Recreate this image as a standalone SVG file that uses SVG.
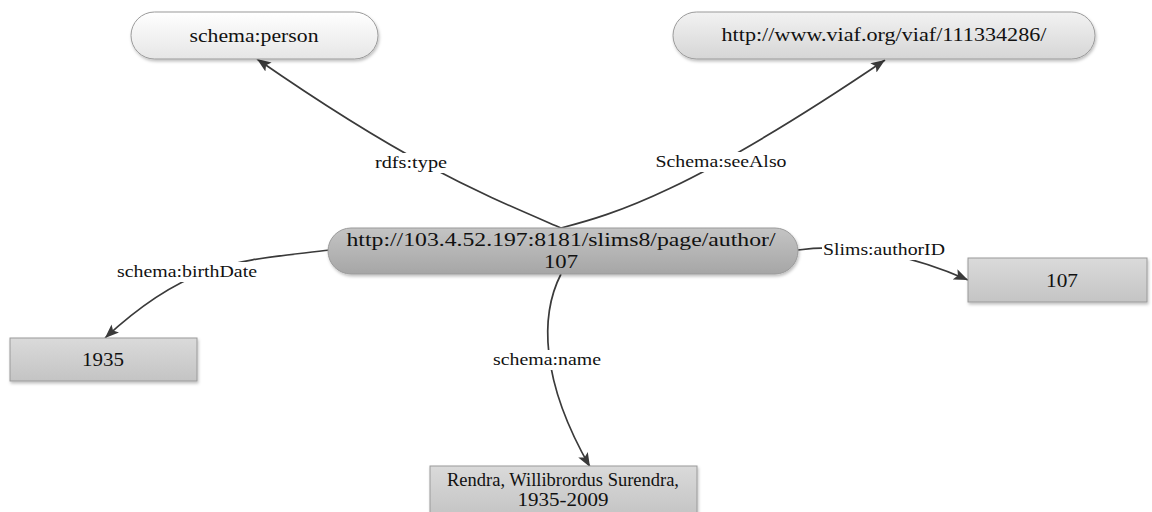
<svg xmlns="http://www.w3.org/2000/svg" width="1152" height="512" viewBox="0 0 1152 512">
<style>
text{font-family:"Liberation Serif","Times New Roman",serif;fill:#111111;text-anchor:middle}
.n{font-size:19px}
.c{font-size:19px}
.l{font-size:17px}
.edge{fill:none;stroke:#3a3a3a;stroke-width:1.7;marker-end:url(#ah)}
.lbg{fill:#ffffff}
.node{stroke:#9a9a9a;stroke-width:1;filter:url(#sh)}
</style>
<defs>
<marker id="ah" markerUnits="userSpaceOnUse" markerWidth="15" markerHeight="12" refX="14" refY="5.5" orient="auto">
<path d="M0,0 L14,5.5 L0,11 L3,5.5 z" fill="#3a3a3a"/>
</marker>
<linearGradient id="gW" x1="0" y1="0" x2="0" y2="1"><stop offset="0" stop-color="#ffffff"/><stop offset="1" stop-color="#e6e6e6"/></linearGradient>
<linearGradient id="gL" x1="0" y1="0" x2="0" y2="1"><stop offset="0" stop-color="#f2f2f2"/><stop offset="1" stop-color="#d6d6d6"/></linearGradient>
<linearGradient id="gC" x1="0" y1="0" x2="0" y2="1"><stop offset="0" stop-color="#c4c4c4"/><stop offset="1" stop-color="#a6a6a6"/></linearGradient>
<linearGradient id="gB" x1="0" y1="0" x2="0" y2="1"><stop offset="0" stop-color="#dadada"/><stop offset="1" stop-color="#c4c4c4"/></linearGradient>
<filter id="sh" x="-10%" y="-20%" width="120%" height="150%"><feDropShadow dx="1" dy="2" stdDeviation="1.5" flood-color="#000" flood-opacity="0.25"/></filter>
</defs>

<g id="connectors">
<path class="edge" d="M561,228 C480,193 410,165 257,59"/>
<path class="edge" d="M561,228 C615,214 690,192 885,60"/>
<path class="edge" d="M330,250 C240,261 190,259 105,338"/>
<path class="edge" d="M798,250 C840,244 900,250 968,280"/>
<path class="edge" d="M561,274 C540,315 540,380 590,467"/>
<g id="edge-labels">
<rect class="lbg" x="373" y="153" width="76" height="20"/>
<text class="l" x="411" y="168" textLength="72" lengthAdjust="spacingAndGlyphs">rdfs:type</text>
<rect class="lbg" x="654" y="152" width="135" height="20"/>
<text class="l" x="721" y="167" textLength="131" lengthAdjust="spacingAndGlyphs">Schema:seeAlso</text>
<rect class="lbg" x="115" y="262" width="144" height="20"/>
<text class="l" x="187" y="277" textLength="140" lengthAdjust="spacingAndGlyphs">schema:birthDate</text>
<rect class="lbg" x="822" y="240" width="125" height="20"/>
<text class="l" x="884" y="255" textLength="122" lengthAdjust="spacingAndGlyphs">Slims:authorID</text>
<rect class="lbg" x="491" y="350" width="112" height="20"/>
<text class="l" x="547" y="365" textLength="108" lengthAdjust="spacingAndGlyphs">schema:name</text>
</g>
</g>

<g id="node-person">
<rect class="node" x="131" y="12" width="247" height="47" rx="23.5" fill="url(#gW)"/>
<text class="n" x="254" y="42" textLength="129" lengthAdjust="spacingAndGlyphs">schema:person</text>
</g>
<g id="node-viaf">
<rect class="node" x="673" y="12" width="422" height="47" rx="23.5" fill="url(#gL)"/>
<text class="n" x="884" y="41" textLength="325" lengthAdjust="spacingAndGlyphs">http://www.viaf.org/viaf/111334286/</text>
</g>
<g id="node-author">
<rect class="node" x="328" y="228" width="470" height="46" rx="23" fill="url(#gC)" stroke="#888"/>
<text class="c" x="561" y="246" textLength="429" lengthAdjust="spacingAndGlyphs">http://103.4.52.197:8181/slims8/page/author/</text>
<text class="c" x="561" y="268" textLength="34" lengthAdjust="spacingAndGlyphs">107</text>
</g>
<g id="node-birthdate">
<rect class="node" x="10" y="338" width="187" height="43" fill="url(#gB)"/>
<text class="n" x="103" y="366" textLength="42" lengthAdjust="spacingAndGlyphs">1935</text>
</g>
<g id="node-authorid">
<rect class="node" x="968" y="258" width="179" height="44" fill="url(#gB)"/>
<text class="n" x="1062" y="287" textLength="32" lengthAdjust="spacingAndGlyphs">107</text>
</g>
<g id="node-name">
<rect class="node" x="430" y="466" width="267" height="50" fill="url(#gB)"/>
<text class="n" x="563" y="486" textLength="232" lengthAdjust="spacingAndGlyphs">Rendra, Willibrordus Surendra,</text>
<text class="n" x="563" y="506" textLength="91" lengthAdjust="spacingAndGlyphs">1935-2009</text>
</g>
</svg>
